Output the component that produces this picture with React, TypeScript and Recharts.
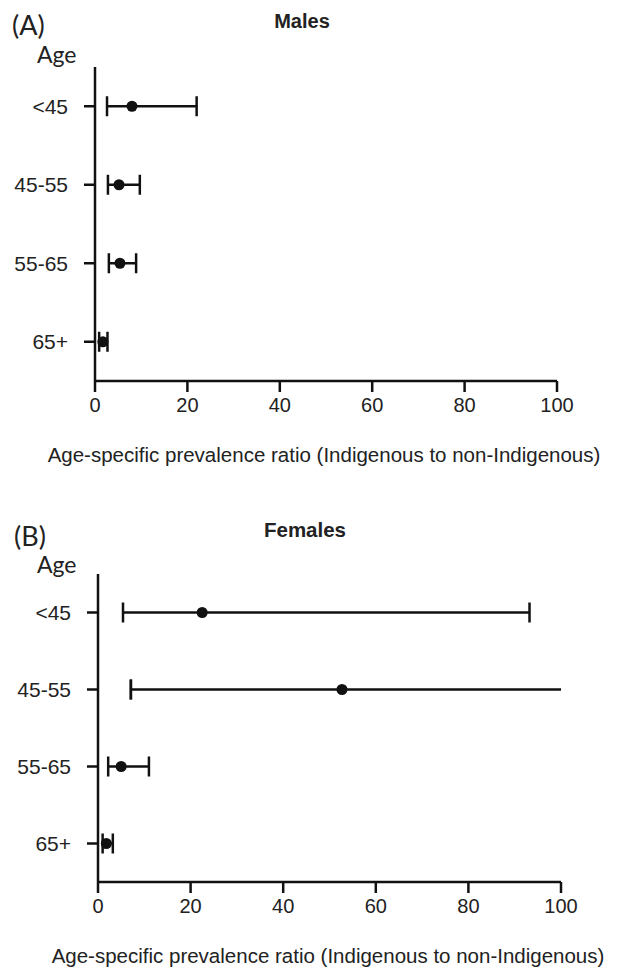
import { ErrorBar, Scatter, ScatterChart, XAxis, YAxis } from "recharts";

const ageGroups = ["<45", "45-55", "55-65", "65+"];
const xTicks = [0, 20, 40, 60, 80, 100];
const X_MAX = 100;

// males: point estimate and 95% CI
const maleEstimate = [8.0, 5.2, 5.4, 1.7];
const maleLower = [2.6, 2.8, 3.0, 0.9];
const maleUpper = [22.0, 9.7, 8.9, 2.7];

// females: the 45-55 upper bound runs off the axis
const femaleEstimate = [22.5, 52.7, 5.0, 1.8];
const femaleLower = [5.4, 7.1, 2.2, 1.0];
const femaleUpper = [93.2, 140, 11.0, 3.2];

const INK = "#111";
const TEXT = "#222";
const FONT = "'Liberation Sans', Arial, sans-serif";
const LABEL_FONT = "Lato, 'Liberation Sans', sans-serif";

// whiskers are anchored at the lower bound so the left cap sits at lo and the
// right cap at hi; a CI that runs off the axis gets an open line to the edge, no cap
function whiskerRows(lo: number[], hi: number[]) {
  return ageGroups.map((age, i) => {
    const over = hi[i] > X_MAX;
    return {
      age,
      value: lo[i],
      span: [0, over ? 0 : hi[i] - lo[i]],
      open: [0, over ? X_MAX - lo[i] : 0],
    };
  });
}

function pointRows(est: number[]) {
  return ageGroups.map((age, i) => ({ age, value: est[i] }));
}

const Dot = (props: any) => {
  const { cx, cy } = props;
  if (cx == null || cy == null) return null;
  return <circle cx={cx} cy={cy} r={5.5} fill={INK} />;
};

const NoDot = () => <g />;

interface PanelProps {
  est: number[];
  lo: number[];
  hi: number[];
  top: number;
  height: number;
  margin: { top: number; right: number; bottom: number; left: number };
  yWidth: number;
}

function Panel({ est, lo, hi, top, height, margin, yWidth }: PanelProps) {
  const line = { stroke: INK, strokeWidth: 2.5 };
  const xTick = { fill: TEXT, fontSize: 20, fontFamily: FONT };
  const yTick = { fill: TEXT, fontSize: 21, fontFamily: FONT };
  return (
    <div style={{ position: "absolute", left: 0, top }}>
      <ScatterChart width={617} height={height} margin={margin}>
        <XAxis
          type="number"
          dataKey="value"
          domain={[0, X_MAX]}
          ticks={xTicks}
          allowDataOverflow
          height={40}
          tick={xTick}
          tickSize={11}
          tickMargin={6}
          axisLine={line}
          tickLine={line}
        />
        <YAxis
          type="category"
          dataKey="age"
          scale="band"
          reversed
          allowDuplicatedCategory={false}
          width={yWidth}
          tick={yTick}
          tickSize={11}
          tickMargin={16}
          axisLine={line}
          tickLine={line}
        />
        <Scatter
          data={whiskerRows(lo, hi)}
          shape={NoDot}
          isAnimationActive={false}
        >
          <ErrorBar
            dataKey="span"
            direction="x"
            width={10}
            stroke={INK}
            strokeWidth={2.5}
            isAnimationActive={false}
          />
          <ErrorBar
            dataKey="open"
            direction="x"
            width={0}
            stroke={INK}
            strokeWidth={2.5}
            isAnimationActive={false}
          />
        </Scatter>
        <Scatter data={pointRows(est)} shape={Dot} isAnimationActive={false} />
      </ScatterChart>
    </div>
  );
}

export default function App() {
  const axisTitle =
    "Age-specific prevalence ratio (Indigenous to non-Indigenous)";

  return (
    <div
      style={{
        position: "absolute",
        left: 0,
        top: 0,
        width: 617,
        height: 967,
        background: "#fff",
      }}
    >
      <Panel
        est={maleEstimate}
        lo={maleLower}
        hi={maleUpper}
        top={0}
        height={480}
        margin={{ top: 67, right: 60, bottom: 59, left: 0 }}
        yWidth={95}
      />
      <Panel
        est={femaleEstimate}
        lo={femaleLower}
        hi={femaleUpper}
        top={480}
        height={487}
        margin={{ top: 94, right: 56, bottom: 45, left: 0 }}
        yWidth={98}
      />
      <svg
        width={617}
        height={967}
        style={{ position: "absolute", left: 0, top: 0, pointerEvents: "none" }}
      >
        <text x={12} y={35} fontSize={27} fontFamily={LABEL_FONT} fill={TEXT}>
          (A)
        </text>
        <text x={37} y={63} fontSize={23} fontFamily={LABEL_FONT} fill={TEXT}>
          Age
        </text>
        <text
          x={302}
          y={28}
          fontSize={20}
          fontWeight="bold"
          fontFamily={FONT}
          fill={TEXT}
          textAnchor="middle"
        >
          Males
        </text>
        <text
          x={324}
          y={462}
          fontSize={20.5}
          fontFamily={FONT}
          fill={TEXT}
          textAnchor="middle"
        >
          {axisTitle}
        </text>

        <text x={14} y={546} fontSize={27} fontFamily={LABEL_FONT} fill={TEXT}>
          (B)
        </text>
        <text x={37} y={573} fontSize={23} fontFamily={LABEL_FONT} fill={TEXT}>
          Age
        </text>
        <text
          x={305}
          y={537}
          fontSize={20.5}
          fontWeight="bold"
          fontFamily={FONT}
          fill={TEXT}
          textAnchor="middle"
        >
          Females
        </text>
        <text
          x={328}
          y={963}
          fontSize={20.5}
          fontFamily={FONT}
          fill={TEXT}
          textAnchor="middle"
        >
          {axisTitle}
        </text>
      </svg>
    </div>
  );
}
